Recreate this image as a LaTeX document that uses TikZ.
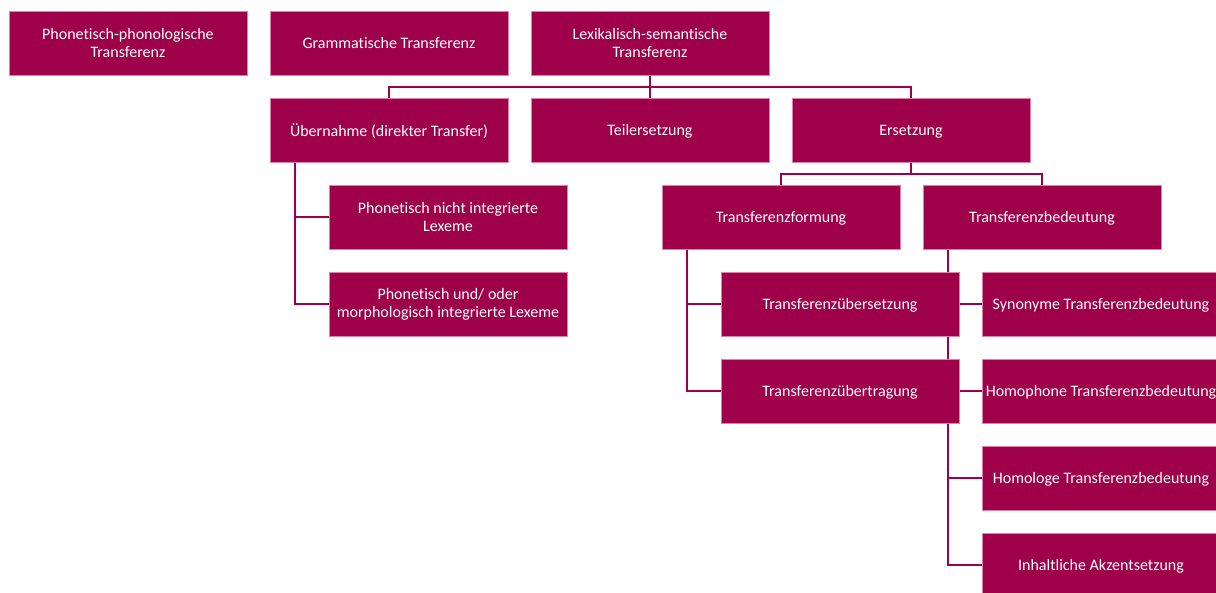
\documentclass[tikz,border=0pt]{standalone}
\usepackage{fontspec}
\setmainfont{Carlito}[Ligatures=NoCommon]
\usetikzlibrary{backgrounds}
\definecolor{crim}{RGB}{158,0,73}
\definecolor{rim}{RGB}{222,130,170}
\tikzset{
  box/.style={rectangle, fill=crim, draw=rim, line width=0.8pt,
    minimum width=238pt, minimum height=64pt, inner sep=0pt,
    text=white, align=center, font=\fontsize{16}{18}\selectfont},
  one/.style={box, text depth=0pt},
  conn/.style={draw=crim, line width=2.3pt}
}
\begin{document}
\begin{tikzpicture}[x=1pt,y=-1pt]
\useasboundingbox (0,0) rectangle (1216,592);
\clip (0,0) rectangle (1216,592);
% row 1
\node[box] (pp) at (128,43) {Phonetisch-phonologische\\Transferenz};
\node[one] (gr) at (389,43) {Grammatische Transferenz};
\node[box] (ls) at (650,43) {Lexikalisch-semantische\\Transferenz};
% row 2
\node[one] (ub) at (389,130) {Übernahme (direkter Transfer)};
\node[one] (te) at (650,130) {Teilersetzung};
\node[one] (er) at (911,130) {Ersetzung};
% row 3
\node[box] (pn) at (448,217) {Phonetisch nicht integrierte\\Lexeme};
\node[one] (tf) at (781,217) {Transferenzformung};
\node[one] (tb) at (1042,217) {Transferenzbedeutung};
% row 4
\node[box] (pu) at (448,304) {Phonetisch und/ oder\\morphologisch integrierte Lexeme};
\node[one] (tue) at (840,304) {Transferenzübersetzung};
\node[one] (syn) at (1101,304) {Synonyme Transferenzbedeutung};
% row 5
\node[one] (tut) at (840,391) {Transferenzübertragung};
\node[one] (hom) at (1101,391) {Homophone Transferenzbedeutung};
% row 6, 7
\node[one] (hol) at (1101,478) {Homologe Transferenzbedeutung};
\node[one] (ink) at (1101,565) {Inhaltliche Akzentsetzung};

\begin{scope}[on background layer]
  \coordinate (lsb) at (650,87);
  \draw[conn] (ls.south) -- (lsb);
  \draw[conn] (ub.north) |- (lsb) -| (er.north);
  \draw[conn] (te.north) -- (lsb);
  \coordinate (erb) at (911,174);
  \draw[conn] (er.south) -- (erb);
  \draw[conn] (tf.north) |- (erb) -| (tb.north);
  \coordinate (uba) at (295,162);
  \draw[conn] (uba) |- (pn.west);
  \draw[conn] (uba) |- (pu.west);
  \coordinate (tfa) at (687,249);
  \draw[conn] (tfa) |- (tue.west);
  \draw[conn] (tfa) |- (tut.west);
  \coordinate (tba) at (948,249);
  \draw[conn] (tba) |- (syn.west);
  \draw[conn] (tba) |- (hom.west);
  \draw[conn] (tba) |- (hol.west);
  \draw[conn] (tba) |- (ink.west);
\end{scope}
\end{tikzpicture}
\end{document}
